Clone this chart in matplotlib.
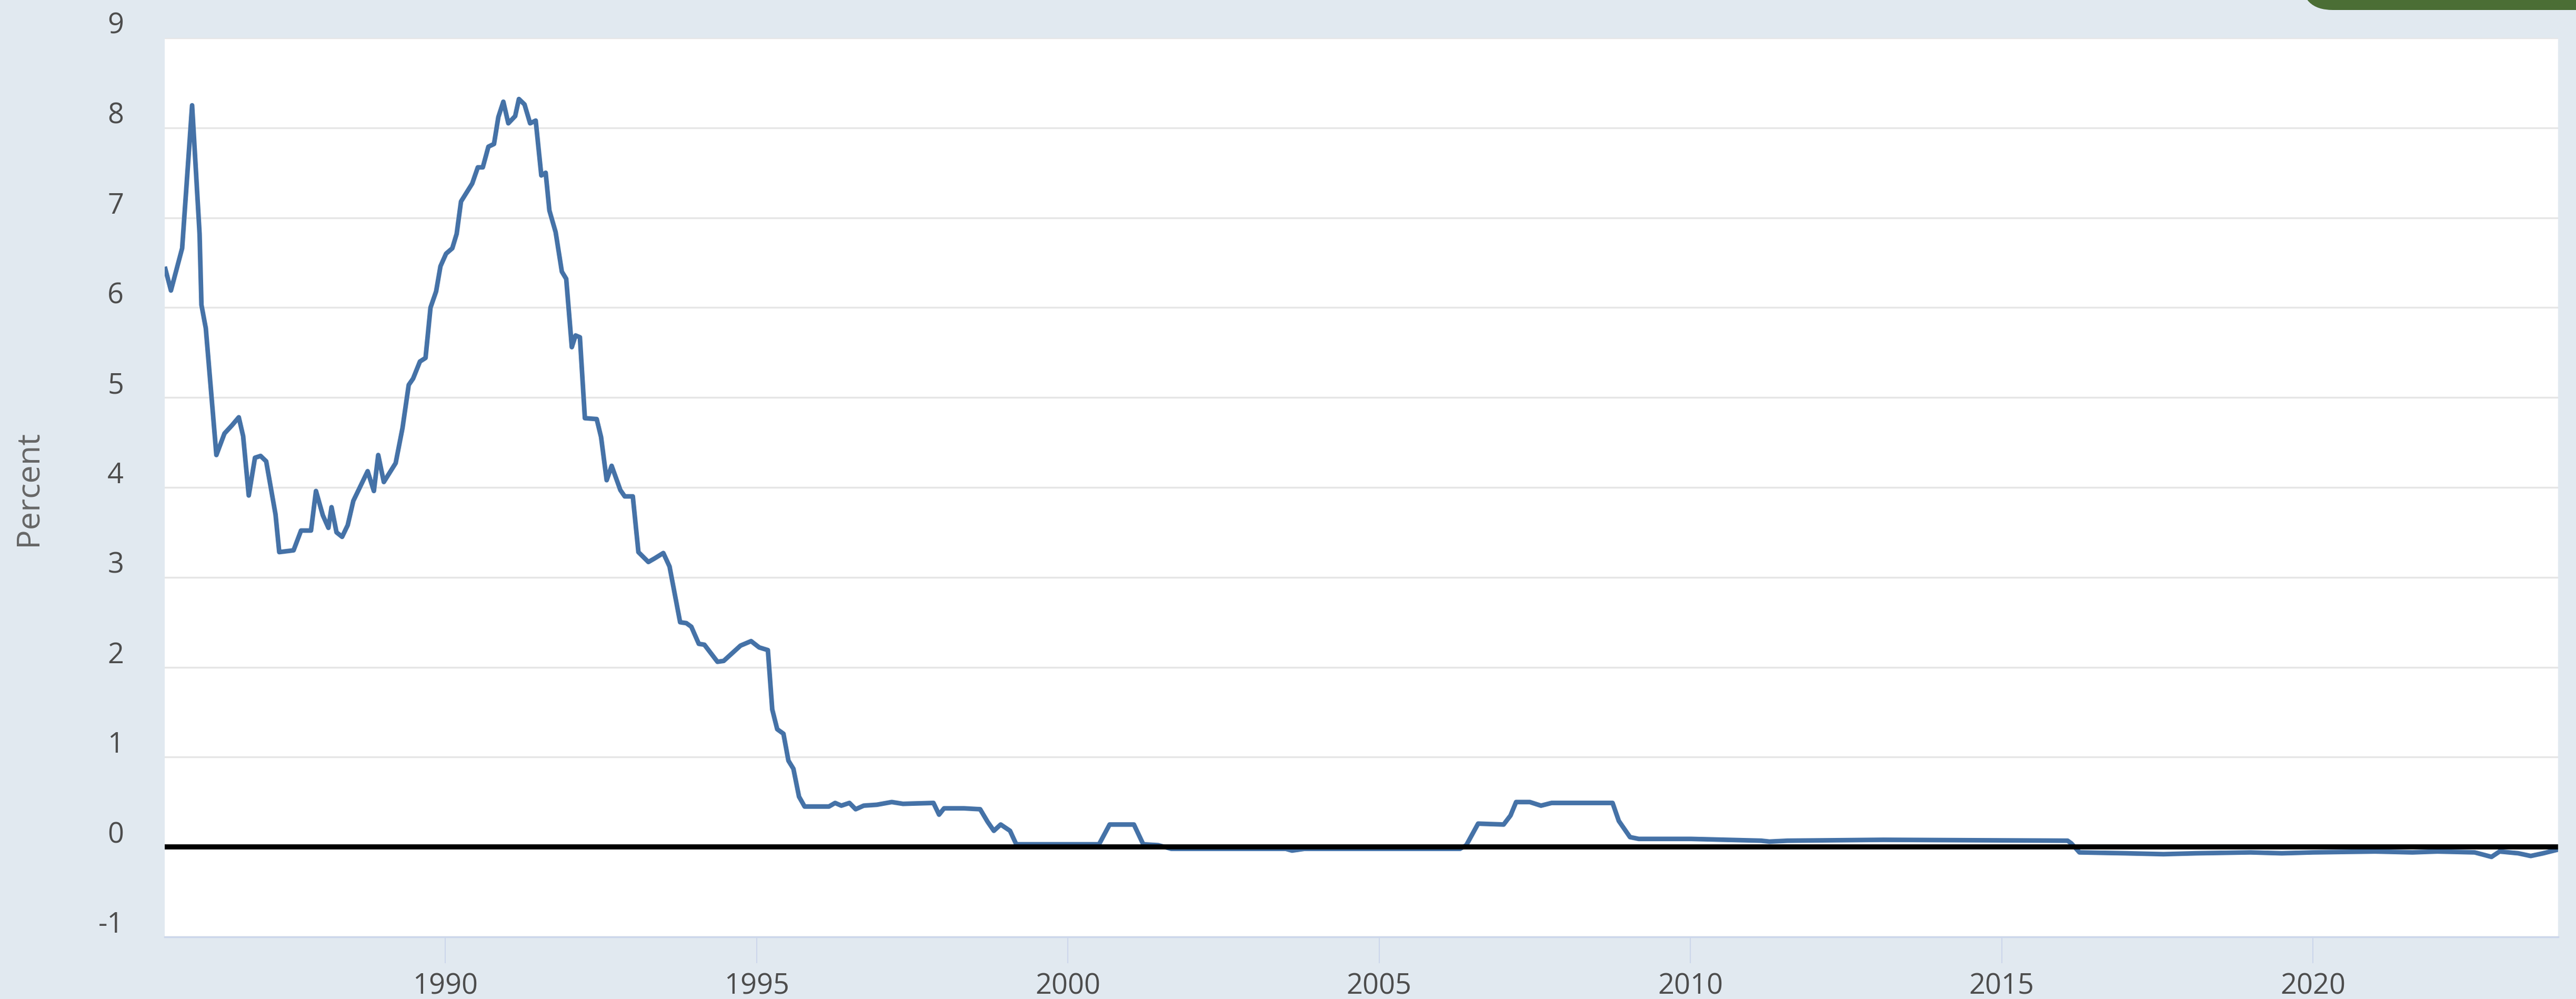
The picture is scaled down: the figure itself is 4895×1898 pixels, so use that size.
import matplotlib
matplotlib.use("Agg")
import matplotlib.pyplot as plt
from matplotlib.patches import FancyBboxPatch
from matplotlib.transforms import ScaledTranslation, IdentityTransform

# --- call money rate, Japan (percent), read at decimal-year positions ---
YEAR = [
    1985.50, 1985.59, 1985.77, 1985.93, 1986.05, 1986.08, 1986.15, 1986.32,
    1986.45, 1986.57, 1986.68, 1986.75, 1986.84, 1986.94, 1987.03, 1987.12,
    1987.27, 1987.33, 1987.56, 1987.68, 1987.84, 1987.92, 1988.03, 1988.12,
    1988.17, 1988.25, 1988.34, 1988.43, 1988.52, 1988.75, 1988.85, 1988.92,
    1989.01, 1989.20, 1989.31, 1989.41, 1989.48, 1989.59, 1989.68, 1989.76,
    1989.85, 1989.92, 1990.01, 1990.11, 1990.18, 1990.25, 1990.43, 1990.52,
    1990.60, 1990.69, 1990.78, 1990.85, 1990.93, 1991.01, 1991.12, 1991.18,
    1991.27, 1991.36, 1991.45, 1991.54, 1991.61, 1991.67, 1991.77, 1991.87,
    1991.94, 1992.03, 1992.09, 1992.16, 1992.24, 1992.43, 1992.50, 1992.59,
    1992.67, 1992.81, 1992.88, 1993.01, 1993.10, 1993.26, 1993.36, 1993.50,
    1993.60, 1993.77, 1993.87, 1993.95, 1994.07, 1994.16, 1994.37, 1994.47,
    1994.74, 1994.91, 1995.04, 1995.18, 1995.25, 1995.33, 1995.43, 1995.51,
    1995.59, 1995.68, 1995.77, 1996.16, 1996.26, 1996.36, 1996.49, 1996.59,
    1996.72, 1996.93, 1997.17, 1997.35, 1997.84, 1997.93, 1998.01, 1998.33,
    1998.59, 1998.71, 1998.81, 1998.92, 1999.07, 1999.17, 2000.50, 2000.67,
    2001.06, 2001.21, 2001.45, 2001.66, 2003.50, 2003.60, 2003.80, 2006.30,
    2006.40, 2006.59, 2007.00, 2007.11, 2007.20, 2007.42, 2007.60, 2007.77,
    2008.75, 2008.85, 2009.03, 2009.17, 2010.01, 2011.14, 2011.27, 2011.56,
    2013.10, 2016.06, 2016.12, 2016.25, 2017.00, 2017.60, 2018.12, 2019.00,
    2019.50, 2020.00, 2021.00, 2021.60, 2022.00, 2022.60, 2022.87, 2023.00,
    2023.30, 2023.50, 2023.70, 2023.93,
]
RATE = [
    6.43, 6.19, 6.66, 8.25, 6.82, 6.03, 5.77, 4.36,
    4.60, 4.69, 4.78, 4.57, 3.91, 4.33, 4.35, 4.29,
    3.70, 3.28, 3.30, 3.52, 3.52, 3.96, 3.69, 3.55,
    3.78, 3.50, 3.45, 3.58, 3.85, 4.18, 3.96, 4.36,
    4.06, 4.27, 4.66, 5.14, 5.21, 5.40, 5.44, 6.00,
    6.18, 6.46, 6.60, 6.66, 6.82, 7.18, 7.38, 7.56,
    7.56, 7.79, 7.82, 8.12, 8.29, 8.05, 8.13, 8.32,
    8.26, 8.05, 8.08, 7.47, 7.50, 7.08, 6.84, 6.40,
    6.32, 5.56, 5.69, 5.67, 4.77, 4.76, 4.56, 4.08,
    4.24, 3.97, 3.90, 3.90, 3.28, 3.17, 3.21, 3.27,
    3.12, 2.50, 2.49, 2.45, 2.26, 2.25, 2.06, 2.07,
    2.24, 2.29, 2.22, 2.19, 1.53, 1.31, 1.26, 0.96,
    0.87, 0.56, 0.45, 0.45, 0.49, 0.46, 0.49, 0.42,
    0.46, 0.47, 0.50, 0.48, 0.49, 0.36, 0.43, 0.43,
    0.42, 0.28, 0.18, 0.25, 0.18, 0.03, 0.03, 0.25,
    0.25, 0.03, 0.02, -0.02, -0.02, -0.04, -0.02, -0.02,
    0.02, 0.26, 0.25, 0.35, 0.50, 0.50, 0.46, 0.49,
    0.49, 0.29, 0.11, 0.09, 0.09, 0.07, 0.06, 0.07,
    0.08, 0.07, 0.04, -0.06, -0.07, -0.08, -0.07, -0.06,
    -0.07, -0.06, -0.05, -0.06, -0.05, -0.06, -0.11, -0.05,
    -0.07, -0.10, -0.07, -0.03,
]

Y_TICKS = [-1, 0, 1, 2, 3, 4, 5, 6, 7, 8, 9]
Y_LABELS = ["-1", "0", "1", "2", "3", "4", "5", "6", "7", "8", "9"]
X_TICKS = [1990, 1995, 2000, 2005, 2010, 2015, 2020]
X_LABELS = [str(t) for t in X_TICKS]

BG = "#E1E9F0"
LINE = "#4572A7"
AXIS = "#CCD6EB"
TXT = "#4D4D4D"

plt.rcParams["font.family"] = ["Open Sans", "DejaVu Sans"]

W, H, DPI = 4895, 1899, 100
fig = plt.figure(figsize=(W / DPI, H / DPI), dpi=DPI, facecolor=BG)
ax = fig.add_axes([313 / W, 1 - 1781 / H, (4861 - 313) / W, (1781 - 73) / H])
ax.set_facecolor("white")

ax.plot(YEAR, RATE, color=LINE, lw=6.3, solid_joinstyle="round", zorder=3)
ax.axhline(0, color="black", lw=7.0, zorder=4)

ax.set_xlim(1985.49, 2023.94)
ax.set_ylim(-1, 9)

ax.set_yticks(Y_TICKS)
ax.set_yticklabels(Y_LABELS)
ax.set_xticks(X_TICKS)
ax.set_xticklabels(X_LABELS)

ax.grid(axis="y", color="#E6E6E6", lw=2.5, zorder=1)
ax.grid(axis="x", visible=False)

for s in ("top", "right", "left"):
    ax.spines[s].set_visible(False)
ax.spines["bottom"].set_color(AXIS)
ax.spines["bottom"].set_linewidth(2.5)

ax.tick_params(axis="y", length=0, pad=56, labelsize=39, labelcolor=TXT)
ax.tick_params(axis="x", length=36, width=1.5, color=AXIS, pad=11,
               labelsize=39, labelcolor=TXT)

# y labels sit just above their gridline
shift = ScaledTranslation(0, 30 / DPI, fig.dpi_scale_trans)
for lab in ax.get_yticklabels():
    lab.set_transform(lab.get_transform() + shift)

fig.text(54 / W, 1 - 927 / H, "Percent", rotation=90, ha="center", va="center",
         fontsize=44, color="#666666")

# button edge peeking in at the top right
btn = FancyBboxPatch((4373, H - 20), 700, 200,
                     boxstyle="round,pad=0,rounding_size=60",
                     transform=IdentityTransform(), facecolor="#4B6E35",
                     edgecolor="none")
fig.patches.append(btn)

fig.savefig("out.png", dpi=DPI, facecolor=BG)
